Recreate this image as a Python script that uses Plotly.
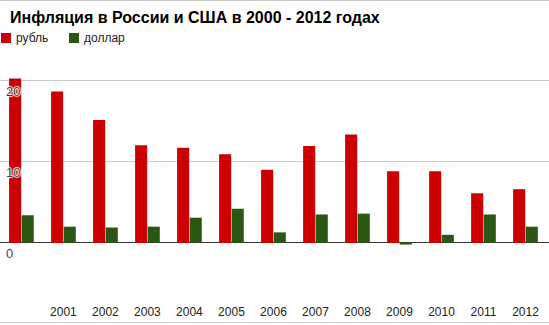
import plotly.graph_objects as go

years = [str(y) for y in range(2000, 2013)]
rub = [20.2, 18.6, 15.1, 12.0, 11.7, 10.9, 9.0, 11.9, 13.3, 8.8, 8.8, 6.1, 6.6]
usd = [3.4, 2.0, 1.9, 2.0, 3.1, 4.2, 1.3, 3.5, 3.6, -0.2, 1.0, 3.5, 2.0]
tick_vals = [0, 10, 20]
tick_text = ["0", "10", "20"]
x_labels = ["", "2001", "2002", "2003", "2004", "2005", "2006", "2007", "2008", "2009", "2010", "2011", "2012"]
series_names = ["рубль", "доллар"]
series_colors = ["#cc0000", "#2b5714"]

W, H = 549, 325
T, B = 78, 25
ymin, ymax = -7, 20.25

fig = go.Figure()
for name, vals, col in zip(series_names, [rub, usd], series_colors):
    fig.add_trace(go.Bar(x=years, y=vals, name=name, marker_color=col, marker_line_width=0,
                         showlegend=False))

def py2paper(py):
    return (H - B - py) / (H - T - B)

def px2paper(px):
    return px / W

shapes = [
    dict(type="line", xref="paper", yref="paper", x0=0, x1=1, y0=py2paper(0.5), y1=py2paper(0.5),
         line=dict(color="#cccccc", width=1)),
    dict(type="line", xref="paper", yref="paper", x0=0, x1=1, y0=py2paper(322.5), y1=py2paper(322.5),
         line=dict(color="#cccccc", width=1)),
]
annotations = []
legend_x = [1, 69]
for lx, name, col in zip(legend_x, series_names, series_colors):
    shapes.append(dict(type="rect", xref="paper", yref="paper",
                       x0=px2paper(lx), x1=px2paper(lx + 10),
                       y0=py2paper(43), y1=py2paper(33),
                       fillcolor=col, line=dict(width=0)))
    annotations.append(dict(text=name, xref="paper", yref="paper",
                            x=px2paper(lx + 13), y=py2paper(38.5),
                            xanchor="left", yanchor="middle", showarrow=False,
                            font=dict(size=12, color="#222222")))

halo = "1px 0 1px #fff, -1px 0 1px #fff, 0 1px 1px #fff, 0 -1px 1px #fff"
for v, t in zip(tick_vals, tick_text):
    annotations.append(dict(text=t, xref="paper", yref="y", x=px2paper(4), y=v,
                            xanchor="left", yanchor="middle", yshift=-11, showarrow=False,
                            font=dict(size=13, color="#444444", shadow=halo)))

fig.update_layout(
    width=W, height=H,
    margin=dict(l=0, r=0, t=T, b=B),
    paper_bgcolor="white", plot_bgcolor="white",
    font=dict(family="Liberation Sans, Arial", size=12, color="#222222"),
    title=dict(text="<b>Инфляция в России и США в 2000 - 2012 годах</b>",
               x=10 / W, xanchor="left", xref="paper",
               y=1 - 17 / H, yanchor="middle", yref="container",
               font=dict(size=16, color="#000000")),
    barmode="group", bargap=0.4, bargroupgap=0.04,
    showlegend=False,
    xaxis=dict(tickmode="array", tickvals=years, ticktext=x_labels,
               range=[-0.51, 12.56], showgrid=False, zeroline=False, showline=False,
               ticks="", ticklabelstandoff=3, tickfont=dict(size=12, color="#222222")),
    yaxis=dict(range=[ymin, ymax], tickmode="array", tickvals=tick_vals, ticktext=tick_text,
               showgrid=True, gridcolor="#cccccc", gridwidth=1,
               zeroline=True, zerolinecolor="#333333", zerolinewidth=1,
               showline=False, ticks="", showticklabels=False),
    shapes=shapes,
    annotations=annotations,
)

fig.write_html("out.html")
